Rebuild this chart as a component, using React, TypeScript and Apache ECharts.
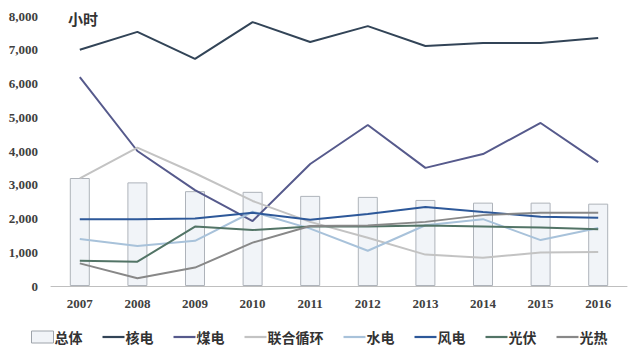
import React, { useEffect, useRef } from "react";
import * as echarts from "echarts";

const years = ["2007", "2008", "2009", "2010", "2011", "2012", "2013", "2014", "2015", "2016"];
const total = [3200, 3070, 2810, 2790, 2670, 2640, 2550, 2470, 2470, 2440];
const nuclear = [7000, 7530, 6730, 7820, 7230, 7700, 7110, 7200, 7200, 7350];
const coal = [6190, 4000, 2840, 1925, 3615, 4770, 3500, 3910, 4830, 3670];
const combined = [3190, 4100, 3340, 2520, 1900, 1430, 930, 840, 990, 1005];
const hydro = [1390, 1185, 1340, 2200, 1700, 1045, 1800, 1980, 1360, 1720];
const wind = [1975, 1975, 2000, 2170, 1960, 2130, 2340, 2190, 2055, 2025];
const pv = [750, 720, 1760, 1660, 1760, 1760, 1790, 1760, 1730, 1680];
const csp = [670, 230, 545, 1285, 1780, 1790, 1900, 2100, 2170, 2170];
const yTicks = [0, 1000, 2000, 3000, 4000, 5000, 6000, 7000, 8000];
const lineNames = ["核电", "煤电", "联合循环", "水电", "风电", "光伏", "光热"];

export default function App() {
  const ref = useRef<HTMLDivElement>(null);
  useEffect(() => {
    document.body.style.margin = "0";
    const chart = echarts.init(ref.current!, null, { renderer: "svg" });
    const serif = "'Liberation Serif', 'Times New Roman', serif";
    const cjk = "'Noto Sans CJK SC', sans-serif";
    const lineIcon = "path://M0 0H40V4H0Z";
    const line = (name: string, data: number[], color: string) => ({
      name,
      type: "line",
      data,
      symbol: "none",
      lineStyle: { color, width: 2 },
      itemStyle: { color },
      z: 3,
    });
    chart.setOption({
      animation: false,
      title: {
        text: "小时",
        left: 63,
        top: 6,
        textStyle: { fontFamily: cjk, fontSize: 15, fontWeight: "bold", color: "#333" },
      },
      grid: { left: 51, right: 13, top: 16, bottom: 70 },
      legend: {
        left: 26,
        top: 325,
        itemGap: 20,
        itemWidth: 22,
        itemHeight: 12,
        textStyle: { fontFamily: cjk, fontSize: 14, fontWeight: "bold", color: "#333", padding: [0, 0, 0, -4] },
        data: [
          { name: "总体", icon: "rect", itemStyle: { color: "#f1f4f8", borderColor: "#9ea4ab", borderWidth: 1 } },
          ...lineNames.map((n) => ({ name: n, icon: lineIcon })),
        ],
      },
      xAxis: {
        type: "category",
        data: years,
        axisLine: { lineStyle: { color: "#bfbfbf", width: 1 } },
        axisTick: { show: false },
        axisLabel: { margin: 11, fontFamily: serif, fontSize: 13, fontWeight: "bold", color: "#404040" },
      },
      yAxis: {
        type: "value",
        min: 0,
        max: 8000,
        interval: 1000,
        splitLine: { show: false },
        axisLine: { show: false },
        axisTick: { show: false },
        axisLabel: {
          margin: 13,
          fontFamily: serif,
          fontSize: 13,
          fontWeight: "bold",
          color: "#404040",
          formatter: (v: number) => (yTicks.includes(v) ? v.toLocaleString("en-US") : ""),
        },
      },
      series: [
        {
          name: "总体",
          type: "bar",
          data: total,
          barWidth: 20,
          itemStyle: { color: "#f1f4f8", borderColor: "#aeb3ba", borderWidth: 1 },
          z: 1,
        },
        line("核电", nuclear, "#324457"),
        line("煤电", coal, "#565a8c"),
        line("联合循环", combined, "#c3c3c3"),
        line("水电", hydro, "#a8c2da"),
        line("风电", wind, "#2d5899"),
        line("光伏", pv, "#527466"),
        line("光热", csp, "#888888"),
      ],
    });
    return () => chart.dispose();
  }, []);
  return <div ref={ref} style={{ width: 640, height: 356 }} />;
}
